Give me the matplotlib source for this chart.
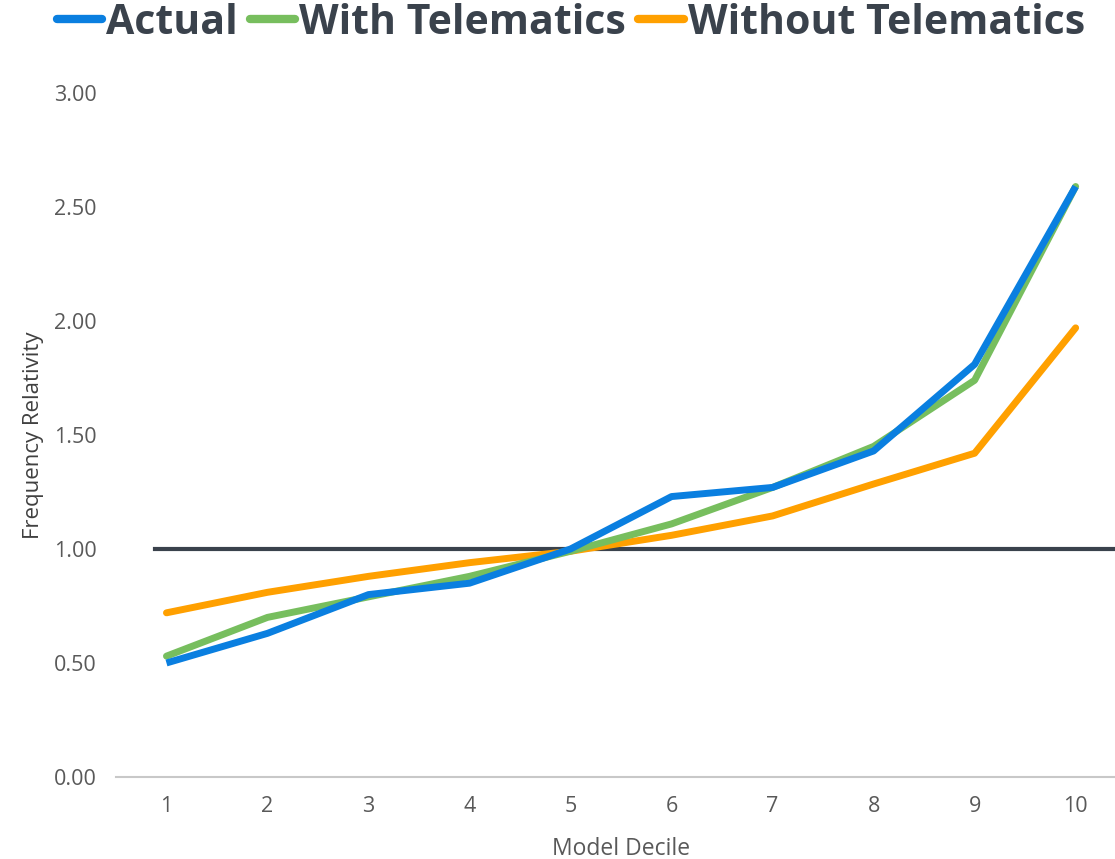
import matplotlib.pyplot as plt

deciles = [1, 2, 3, 4, 5, 6, 7, 8, 9, 10]
actual = [0.50, 0.63, 0.80, 0.85, 1.00, 1.23, 1.27, 1.43, 1.81, 2.59]
with_telematics = [0.53, 0.70, 0.79, 0.88, 0.99, 1.11, 1.27, 1.45, 1.74, 2.59]
without_telematics = [0.72, 0.81, 0.88, 0.94, 0.99, 1.06, 1.145, 1.285, 1.42, 1.97]
y_ticks = [0.0, 0.5, 1.0, 1.5, 2.0, 2.5, 3.0]

plt.rcParams['font.family'] = ['Open Sans', 'DejaVu Sans']

fig = plt.figure(figsize=(11.15, 8.59), dpi=100)
ax = fig.add_axes([0.104, 0.0955, 1.01 - 0.104, 0.8917 - 0.0955])

# reference line at 1.0
ax.plot([0.89, 10.6], [1.0, 1.0], color='#3a424c', lw=3, clip_on=False, zorder=1)

ax.plot(deciles, actual, color='#0a7fe0', lw=5, label='Actual', zorder=4,
        solid_capstyle='butt')
ax.plot(deciles, with_telematics, color='#77be5e', lw=5, label='With Telematics', zorder=3,
        solid_capstyle='round')
ax.plot(deciles, without_telematics, color='#ffa000', lw=5, label='Without Telematics', zorder=2,
        solid_capstyle='round')

ax.set_xlim(0.5, 10.5)
ax.set_ylim(0, 3)
ax.set_xticks(deciles)
ax.set_yticks(y_ticks)
ax.set_yticklabels([f'{v:.2f}' for v in y_ticks])
ax.tick_params(axis='both', length=0, labelsize=15.5, colors='#595959')
ax.tick_params(axis='y', pad=14)
ax.tick_params(axis='x', pad=14)

for side in ['top', 'right', 'left']:
    ax.spines[side].set_visible(False)
ax.spines['bottom'].set_color('#c8c8c8')
ax.spines['bottom'].set_linewidth(1.5)

ax.set_xlabel('Model Decile', fontsize=16.5, color='#595959', labelpad=14)
ax.set_ylabel('Frequency Relativity', fontsize=16, color='#404040', labelpad=7)

leg = fig.legend(loc='upper center', bbox_to_anchor=(0.512, 1.04), ncol=3, frameon=False,
                 handlelength=1.1, handletextpad=0.1, columnspacing=0.3,
                 prop={'weight': 'bold', 'size': 29.5})
for t in leg.get_texts():
    t.set_color('#3a424c')
for h in leg.get_lines():
    h.set_linewidth(6)
    h.set_solid_capstyle('round')

fig.savefig('out.png', dpi=100)
